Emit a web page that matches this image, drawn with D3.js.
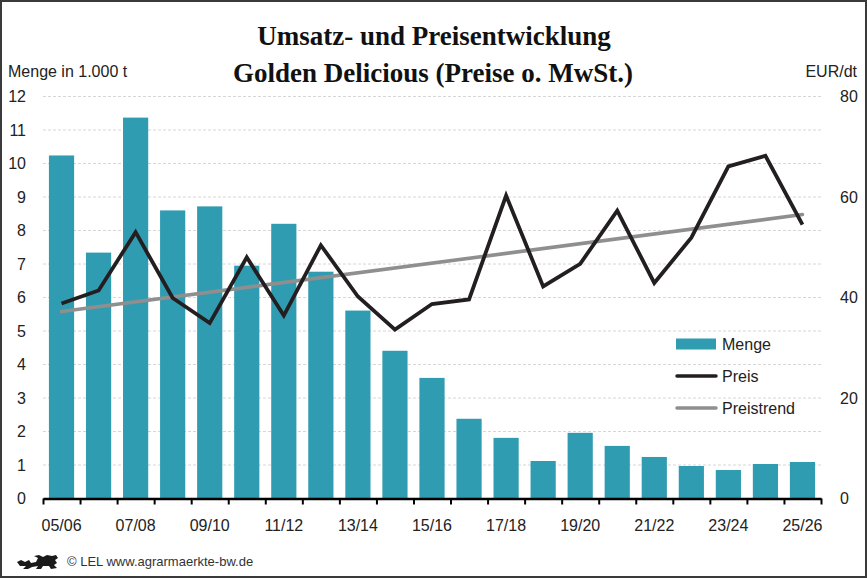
<!DOCTYPE html>
<html>
<head>
<meta charset="utf-8">
<script src="https://cdn.jsdelivr.net/npm/d3@7"></script>
<style>
  body { margin: 0; background: #fff; }
  svg { display: block; font-family: "Liberation Sans", Arial, sans-serif; }
</style>
</head>
<body>
<div id="chart"></div>
<script>
// Wirtschaftsjahre
const seasons = ['05/06', '06/07', '07/08', '08/09', '09/10', '10/11', '11/12', '12/13', '13/14',
  '14/15', '15/16', '16/17', '17/18', '18/19', '19/20', '20/21', '21/22', '22/23', '23/24',
  '24/25', '25/26'];
// Menge in 1.000 t
const menge = [10.24, 7.34, 11.37, 8.6, 8.72, 6.95, 8.2, 6.77, 5.61, 4.41, 3.6,
  2.38, 1.81, 1.12, 1.96, 1.57, 1.24, 0.97, 0.85, 1.03, 1.09];
// Preis EUR/dt
const preis = [38.8, 41.4, 53.0, 39.9, 34.9, 48.0, 36.4, 50.4, 40.2, 33.6, 38.7,
  39.6, 60.3, 42.2, 46.7, 57.3, 42.9, 51.9, 66.1, 68.2, 54.5];
// Preistrend (Anfang und Ende der Trendgeraden)
const trendSeasons = ['05/06', '25/26'];
const trend = [37.2, 56.5];

const leftTicks = d3.range(0, 13);
const rightTicks = [0, 20, 40, 60, 80];
const labelSeasons = seasons.filter((d, i) => i % 2 === 0);

const W = 867, H = 578;
const plot = { left: 43, right: 821, top: 96.5, bottom: 498.5 };

const svg = d3.select('#chart').append('svg')
  .attr('width', W)
  .attr('height', H);

svg.append('rect')
  .attr('x', 1).attr('y', 1)
  .attr('width', W - 2).attr('height', H - 2)
  .attr('fill', '#fff')
  .attr('stroke', '#3a3a3a')
  .attr('stroke-width', 2);

// scales
const x = d3.scaleBand()
  .domain(seasons)
  .range([plot.left, plot.right])
  .paddingInner(0.32)
  .paddingOuter(0.16);
const xEdge = d3.scaleLinear().domain([0, seasons.length]).range([plot.left, plot.right]);
const yL = d3.scaleLinear().domain([0, 12]).range([plot.bottom, plot.top]);
const yR = d3.scaleLinear().domain([0, 80]).range([plot.bottom, plot.top]);
const cx = d => x(d) + x.bandwidth() / 2;

// gridlines
svg.append('g')
  .selectAll('line')
  .data(leftTicks.filter(d => d > 0))
  .join('line')
    .attr('x1', plot.left).attr('x2', plot.right)
    .attr('y1', d => yL(d)).attr('y2', d => yL(d))
    .attr('stroke', '#d6d6d6')
    .attr('stroke-width', 1)
    .attr('stroke-dasharray', '3,2');

// bars
svg.append('g')
  .selectAll('rect')
  .data(menge)
  .join('rect')
    .attr('x', (d, i) => x(seasons[i]))
    .attr('y', d => yL(d))
    .attr('width', x.bandwidth())
    .attr('height', d => yL(0) - yL(d))
    .attr('fill', '#309cb1');

// trend line
const line = d3.line().x(d => cx(d[0])).y(d => yR(d[1]));
svg.append('path')
  .datum(trendSeasons.map((s, i) => [s, trend[i]]))
  .attr('d', line)
  .attr('fill', 'none')
  .attr('stroke', '#8f8f8f')
  .attr('stroke-width', 3.5)
  .attr('stroke-linecap', 'round');

// price line
svg.append('path')
  .datum(seasons.map((s, i) => [s, preis[i]]))
  .attr('d', line)
  .attr('fill', 'none')
  .attr('stroke', '#231f20')
  .attr('stroke-width', 3.8)
  .attr('stroke-linejoin', 'miter');

// x axis: ticks at band edges
const xAxisG = svg.append('g')
  .attr('transform', 'translate(0,' + plot.bottom + ')')
  .call(d3.axisBottom(xEdge).tickValues(d3.range(seasons.length + 1)).tickFormat('').tickSize(6).tickSizeOuter(0));
xAxisG.select('.domain').attr('stroke', '#000').attr('stroke-width', 2.5);
xAxisG.selectAll('.tick line').attr('stroke', '#000').attr('stroke-width', 2);

svg.append('g')
  .selectAll('text')
  .data(labelSeasons)
  .join('text')
    .attr('x', d => cx(d))
    .attr('y', 531)
    .attr('text-anchor', 'middle')
    .attr('font-size', 16)
    .attr('fill', '#222')
    .text(d => d);

// left axis labels
svg.append('g')
  .selectAll('text')
  .data(leftTicks)
  .join('text')
    .attr('x', 26)
    .attr('y', d => yL(d))
    .attr('dy', '0.35em')
    .attr('text-anchor', 'end')
    .attr('font-size', 16)
    .attr('fill', '#222')
    .text(d => d);

// right axis labels
svg.append('g')
  .selectAll('text')
  .data(rightTicks)
  .join('text')
    .attr('x', 840)
    .attr('y', d => yR(d))
    .attr('dy', '0.35em')
    .attr('text-anchor', 'start')
    .attr('font-size', 16)
    .attr('fill', '#222')
    .text(d => d);

// axis titles
svg.append('text')
  .attr('x', 8).attr('y', 77)
  .attr('font-size', 16).attr('fill', '#222')
  .text('Menge in 1.000 t');
svg.append('text')
  .attr('x', 857).attr('y', 77)
  .attr('text-anchor', 'end')
  .attr('font-size', 16).attr('fill', '#222')
  .text('EUR/dt');

// title
const title = svg.append('text')
  .attr('text-anchor', 'middle')
  .style('font-family', '"Liberation Serif", "DejaVu Serif", serif')
  .attr('font-weight', 'bold')
  .attr('font-size', 27)
  .attr('fill', '#111');
title.append('tspan').attr('x', 434).attr('y', 45).text('Umsatz- und Preisentwicklung');
title.append('tspan').attr('x', 433).attr('y', 82).text('Golden Delicious (Preise o. MwSt.)');

// legend
const legend = svg.append('g').attr('transform', 'translate(676,0)');
const legendItems = [
  { label: 'Menge', type: 'rect', color: '#309cb1', y: 344 },
  { label: 'Preis', type: 'line', color: '#231f20', y: 376 },
  { label: 'Preistrend', type: 'line', color: '#8f8f8f', y: 408 }
];
legendItems.forEach(d => {
  if (d.type === 'rect') {
    legend.append('rect')
      .attr('x', 0).attr('y', d.y - 5.5)
      .attr('width', 40).attr('height', 11)
      .attr('fill', d.color);
  } else {
    legend.append('line')
      .attr('x1', 1).attr('x2', 40)
      .attr('y1', d.y).attr('y2', d.y)
      .attr('stroke', d.color)
      .attr('stroke-width', 3.5)
      .attr('stroke-linecap', 'round');
  }
  legend.append('text')
    .attr('x', 46).attr('y', d.y)
    .attr('dy', '0.35em')
    .attr('font-size', 16)
    .attr('fill', '#222')
    .text(d.label);
});

// footer: lion logo (rough silhouette) + source
svg.append('path')
  .attr('d', 'M17,562 L21,560 L25,562 L29,560 L31,563 L36,562 L38,558 L34,556 L39,555 L43,557 L47,555 L52,556 ' +
             'L56,555 L58,558 L55,560 L57,563 L54,565 L57,568 L51,569 L49,566 L43,566 L41,569 L36,569 L38,566 ' +
             'L32,567 L28,569 L23,569 L26,566 L20,566 Z')
  .attr('fill', '#1a1a1a');
svg.append('text')
  .attr('x', 67).attr('y', 566)
  .attr('font-size', 13)
  .attr('fill', '#333')
  .text('© LEL www.agrarmaerkte-bw.de');
</script>
</body>
</html>
